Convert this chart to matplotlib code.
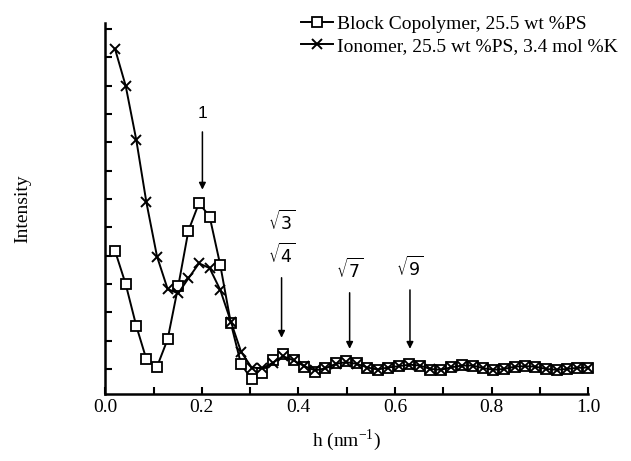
import matplotlib
matplotlib.use("Agg")
import matplotlib.pyplot as plt

# scattering vector h (nm^-1), same grid for both samples
h = [0.020, 0.042, 0.064, 0.085, 0.107, 0.129, 0.151, 0.172, 0.194, 0.216,
     0.238, 0.260, 0.281, 0.303, 0.325, 0.347, 0.368, 0.390, 0.412, 0.434,
     0.456, 0.477, 0.499, 0.521, 0.543, 0.564, 0.586, 0.608, 0.630, 0.652,
     0.673, 0.695, 0.717, 0.739, 0.761, 0.782, 0.804, 0.826, 0.848, 0.869,
     0.891, 0.913, 0.935, 0.957, 0.978, 1.000]

block = [4.17, 3.00, 1.52, 0.34, 0.08, 1.05, 2.93, 4.88, 5.86, 5.38,
         3.67, 1.61, 0.17, -0.36, -0.15, 0.32, 0.52, 0.32, 0.08, -0.10,
         0.02, 0.22, 0.28, 0.20, 0.05, -0.04, 0.05, 0.12, 0.17, 0.12,
         -0.04, -0.04, 0.08, 0.14, 0.12, 0.02, -0.04, -0.01, 0.08, 0.12,
         0.08, -0.01, -0.04, 0.00, 0.05, 0.05]

ionomer = [11.30, 10.00, 8.09, 5.88, 3.97, 2.82, 2.67, 3.20, 3.73, 3.56,
           2.79, 1.67, 0.61, 0.05, 0.02, 0.22, 0.45, 0.30, 0.10, -0.05,
           0.02, 0.18, 0.24, 0.18, 0.05, -0.02, 0.05, 0.10, 0.15, 0.12,
           0.00, -0.03, 0.06, 0.12, 0.12, 0.03, -0.03, 0.00, 0.08, 0.10,
           0.08, 0.00, -0.03, 0.00, 0.04, 0.05]

# peak markers: label, h position, arrow top, arrow tip
peak_labels = ["1", "$\\sqrt{3}$\n$\\sqrt{4}$", "$\\sqrt{7}$", "$\\sqrt{9}$"]
peak_h = [0.201, 0.365, 0.506, 0.631]
arrow_top = [8.37, 3.22, 2.69, 2.79]
arrow_tip = [6.33, 1.10, 0.71, 0.71]

serif = "Liberation Serif"
sans = "Liberation Sans"
plt.rcParams["mathtext.fontset"] = "dejavusans"

fig = plt.figure(figsize=(6.31, 4.61), dpi=100)
ax = fig.add_axes([0.167, 0.145, 0.765, 0.806])

l1, = ax.plot(h, block, color="k", lw=1.4, marker="s", ms=6.5, mfc="white",
              mec="k", mew=1.3, clip_on=False, label="Block Copolymer, 25.5 wt %PS")
l2, = ax.plot(h, ionomer, color="k", lw=1.4, marker="x", ms=7, mew=1.4,
              clip_on=False, label="Ionomer, 25.5 wt %PS, 3.4 mol %K")

for lab, x, y0, y1 in zip(peak_labels, peak_h, arrow_top, arrow_tip):
    ax.annotate("", xy=(x, y1), xytext=(x, y0),
                arrowprops=dict(arrowstyle="-|>", color="k", lw=1.1,
                                mutation_scale=10, shrinkA=0, shrinkB=0))
    ax.text(x, y0 + 0.4, lab, ha="center", va="bottom", family=sans,
            fontsize=12.5, linespacing=1.45)

ax.set_xlim(0, 1.0)
ax.set_ylim(-0.89, 12.23)
ax.set_xticks([0.0, 0.2, 0.4, 0.6, 0.8, 1.0])
ax.set_xticks([0.1, 0.3, 0.5, 0.7, 0.9], minor=True)
ax.set_yticks(range(0, 13))
ax.set_yticklabels([])
for s in ["top", "right"]:
    ax.spines[s].set_visible(False)
for s in ["left", "bottom"]:
    ax.spines[s].set_linewidth(1.8)
ax.tick_params(which="both", direction="in", length=5, width=1.5)
for t in ax.get_xticklabels():
    t.set_family(serif)
    t.set_fontsize(14)

ax.set_xlabel("h (nm$^{\\mathregular{-1}}$)", family=serif, fontsize=14, labelpad=8)
ax.set_ylabel("Intensity", family=serif, fontsize=14, labelpad=50)

leg = ax.legend(handles=[l1, l2], loc="upper left", bbox_to_anchor=(0.39, 1.04),
                frameon=False, handlelength=1.6, handletextpad=0.25,
                labelspacing=0.22, borderaxespad=0,
                prop={"family": serif, "size": 14})

fig.savefig("out.png", dpi=100)
